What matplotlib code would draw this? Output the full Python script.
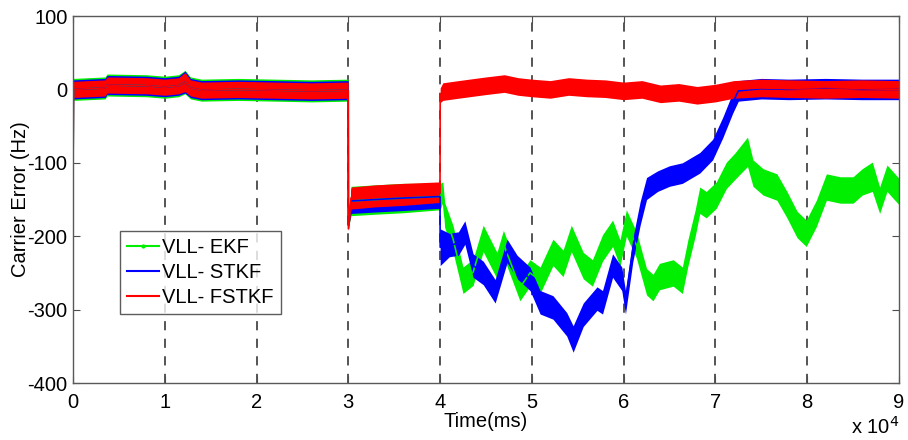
import numpy as np
import matplotlib.pyplot as plt
from matplotlib.lines import Line2D

# time in ms, center value (Hz) and half-width of the noise band (Hz)
t_red = [0, 50, 3500, 3700, 8000, 10000, 11500, 12200, 12800, 14000, 18000, 22000, 26000,
         29990, 30010, 30300, 33000, 36000, 39990, 40010, 40300, 42000, 45000, 47000,
         48500, 50000, 52000, 54000, 56000, 58000, 60000, 62000, 64000, 66000, 68000,
         70000, 72000, 75000, 78000, 82000, 86000, 90000]
c_red = [-130, 0, 2, 6, 5, 3, 5, 10, 2, -1, 0, -1, -2,
         -1, -190, -148, -145, -143, -140, -8, -3, 0, 5, 8,
         4, 2, 0, 4, 2, 1, -2, 0, -6, -4, -8,
         -5, 0, 2, 1, 0, 1, 0]
hw_red = [3, 11, 11, 11, 11, 11, 11, 13, 11, 11, 11, 11, 11,
          11, 3, 15, 15, 15, 14, 10, 12, 12, 12, 12,
          12, 12, 12, 12, 12, 12, 12, 12, 12, 12, 12,
          12, 12, 12, 12, 12, 12, 12]

t_blue = [0, 50, 3500, 3700, 8000, 10000, 11500, 12200, 12800, 14000, 18000, 22000, 26000,
          29990, 30010, 30300, 33000, 36000, 39990, 40010, 41000, 42000, 42700, 43600,
          44700, 46000, 47300, 48400, 49800, 50900, 52300, 53800, 54500, 55600, 57100,
          57700, 58800, 59800, 60200, 61000, 61800, 62500, 63700, 65000, 66400, 68300,
          69700, 70800, 71900, 72500, 75000, 78000, 82000, 86000, 90000]
c_blue = [-130, 0, 2, 6, 5, 3, 5, 10, 2, -1, 0, -1, -2,
          -1, -185, -152, -150, -148, -146, -215, -212, -210, -195, -240,
          -250, -275, -220, -242, -258, -290, -297, -320, -340, -307, -285,
          -290, -240, -258, -290, -219, -169, -135, -125, -118, -114, -100,
          -82, -52, -18, -2, 1, 0, 1, 0, 0]
hw_blue = [3, 13, 13, 13, 13, 13, 13, 15, 13, 13, 13, 13, 13,
           13, 3, 17, 17, 17, 16, 25, 16, 16, 16, 16,
           16, 16, 16, 16, 16, 16, 16, 16, 18, 16, 16,
           16, 16, 16, 16, 16, 16, 15, 14, 14, 14, 14,
           14, 14, 14, 14, 14, 14, 14, 14, 14]

t_green = [0, 50, 3500, 3700, 8000, 10000, 11500, 12200, 12800, 14000, 18000, 22000, 26000,
           29990, 30010, 30300, 33000, 36000, 39990, 40300, 40500, 41400, 42500, 43600,
           44700, 46200, 46900, 48700, 49800, 50900, 52300, 53400, 54300, 55600, 56600,
           57700, 58800, 59600, 60300, 61400, 62500, 63200, 63900, 65400, 66400, 67000,
           67800, 68300, 69000, 70100, 71200, 72100, 73500, 74100, 75200, 76700, 77800,
           78900, 79900, 81000, 82100, 83600, 85000, 86000, 87100, 87900, 88700, 90000]
c_green = [-140, 0, 2, 6, 5, 3, 5, 10, 2, -1, 0, -1, -2,
           -1, -185, -152, -150, -148, -146, -140, -171, -203, -260, -249,
           -203, -240, -210, -270, -250, -260, -222, -237, -203, -240, -250,
           -216, -196, -223, -182, -212, -262, -270, -255, -250, -260, -223,
           -182, -151, -157, -144, -117, -105, -85, -114, -126, -133, -157,
           -184, -196, -169, -133, -137, -137, -126, -119, -151, -121, -139]
hw_green = [3, 15, 15, 15, 15, 15, 15, 16, 15, 15, 15, 15, 15,
            15, 3, 20, 20, 20, 18, 14, 17, 18, 18, 18,
            18, 18, 18, 18, 18, 18, 18, 18, 18, 18, 18,
            18, 18, 18, 18, 18, 18, 18, 18, 18, 18, 18,
            18, 18, 18, 18, 18, 18, 20, 18, 18, 18, 18,
            18, 18, 18, 18, 18, 18, 18, 20, 18, 18, 18]

labels = ['VLL- EKF', 'VLL- STKF', 'VLL- FSTKF']
colors = ['#00ee00', '#0000ff', '#ff0000']

plt.rcParams['font.family'] = ['Liberation Sans', 'DejaVu Sans']
plt.rcParams['axes.unicode_minus'] = False
fs = 14.5
fig = plt.figure(figsize=(9.08, 4.4), dpi=100)
ax = fig.add_axes([0.0804, 0.1295, 0.9096, 0.8341])

series = [(t_green, c_green, hw_green), (t_blue, c_blue, hw_blue), (t_red, c_red, hw_red)]
for (t, c, hw), col in zip(series, colors):
    t = np.array(t, float)
    c = np.array(c, float)
    hw = np.array(hw, float)
    ax.fill_between(t, c - hw, c + hw, color=col, lw=0)
    ax.plot(t, c, color=col, lw=1.2)

ax.set_xlim(0, 90000)
ax.set_ylim(-400, 100)
xt = np.arange(0, 90001, 10000)
ax.set_xticks(xt)
ax.set_xticklabels([str(int(v / 10000)) for v in xt])
ax.set_yticks(np.arange(-400, 101, 100))
for x in xt[1:-1]:
    ax.axvline(x, color='0.15', lw=1.1, ls=(0, (6, 5.5)), zorder=0)

ax.tick_params(direction='in', length=5, width=0.8, labelsize=fs, colors='0.3',
               labelcolor='black', top=True, right=True)
ax.tick_params(axis='x', pad=7)
ax.tick_params(axis='y', pad=4)
for s in ax.spines.values():
    s.set_color('0.35')
    s.set_linewidth(1.0)

ax.set_xlabel('Time(ms)', fontsize=fs, labelpad=0)
ax.set_ylabel('Carrier Error (Hz)', fontsize=fs, labelpad=-2)
fig.text(0.991, 0.004, 'x 10$^4$', ha='right', va='bottom', fontsize=fs)

handles = [Line2D([], [], color=colors[0], lw=1.5, marker='.', markersize=4),
           Line2D([], [], color=colors[1], lw=1.5),
           Line2D([], [], color=colors[2], lw=1.5)]
leg = ax.legend(handles, labels, loc='upper left', bbox_to_anchor=(0.0566, 0.414),
                fontsize=fs, frameon=True, fancybox=False, edgecolor='0.2',
                handlelength=1.6, handletextpad=0.15, borderpad=0.35, labelspacing=0.3,
                borderaxespad=0)
leg.get_frame().set_linewidth(1.0)

fig.savefig('out.png', dpi=100)
